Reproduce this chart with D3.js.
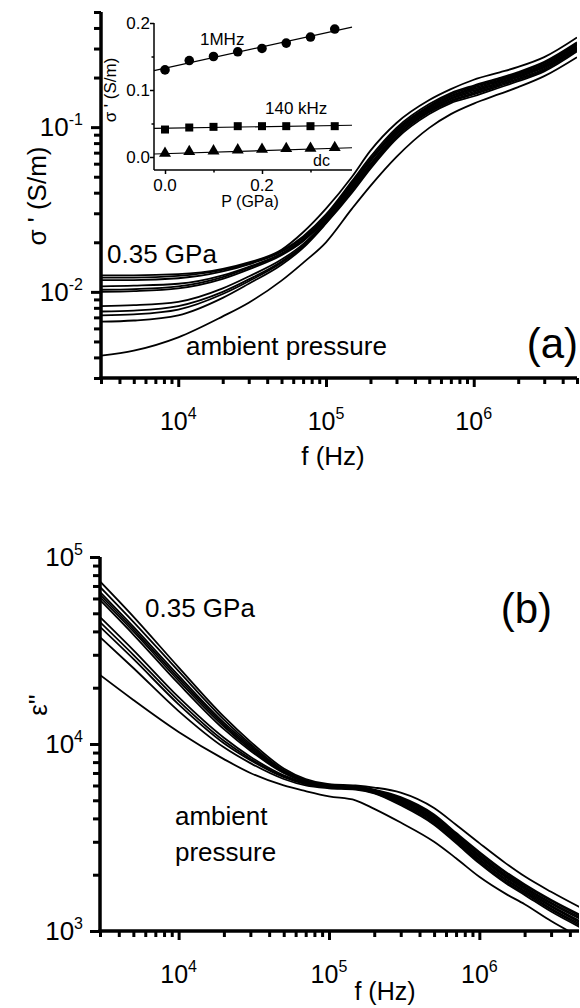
<!DOCTYPE html>
<html>
<head>
<meta charset="utf-8">
<script src="https://cdn.jsdelivr.net/npm/d3@7"></script>
<style>
  body { margin: 0; background: #fff; }
  svg text { font-family: "Liberation Sans", Arial, sans-serif; fill: #000; }
</style>
</head>
<body>
<svg id="chart"></svg>
<script>
// frequency grid (Hz) shared by both panels
const freq = [3e3, 5e3, 1e4, 2e4, 3e4, 5e4, 7e4, 1e5, 1.5e5, 2e5, 3e5, 5e5, 7e5, 1e6, 1.5e6, 2e6, 3e6, 5e6];

// panel (a): sigma' (S/m), ambient pressure first, 0.35 GPa last
const sigmaCurves = [
  [0.0041, 0.0044, 0.0053, 0.0071, 0.0086, 0.0117, 0.0150, 0.0200, 0.032, 0.044, 0.066, 0.099, 0.120, 0.139, 0.159, 0.175, 0.204, 0.266],
  [0.0066, 0.0067, 0.0072, 0.0092, 0.0112, 0.0146, 0.0185, 0.0260, 0.040, 0.056, 0.085, 0.120, 0.140, 0.154, 0.174, 0.190, 0.218, 0.288],
  [0.0072, 0.0073, 0.0078, 0.0097, 0.0116, 0.0150, 0.0188, 0.0263, 0.041, 0.057, 0.087, 0.123, 0.143, 0.158, 0.178, 0.194, 0.222, 0.293],
  [0.0076, 0.0077, 0.0082, 0.0100, 0.0119, 0.0153, 0.0191, 0.0266, 0.042, 0.058, 0.088, 0.125, 0.145, 0.161, 0.181, 0.197, 0.226, 0.298],
  [0.0082, 0.0083, 0.0087, 0.0105, 0.0124, 0.0157, 0.0195, 0.0270, 0.043, 0.059, 0.090, 0.127, 0.148, 0.164, 0.184, 0.201, 0.230, 0.303],
  [0.0100, 0.0101, 0.0105, 0.0120, 0.0137, 0.0167, 0.0203, 0.0275, 0.044, 0.060, 0.092, 0.129, 0.150, 0.167, 0.187, 0.204, 0.234, 0.308],
  [0.0103, 0.0104, 0.0108, 0.0123, 0.0140, 0.0169, 0.0206, 0.0280, 0.045, 0.062, 0.094, 0.131, 0.153, 0.170, 0.190, 0.207, 0.238, 0.313],
  [0.0108, 0.0109, 0.0112, 0.0126, 0.0142, 0.0171, 0.0208, 0.0285, 0.045, 0.063, 0.095, 0.133, 0.155, 0.173, 0.193, 0.210, 0.241, 0.318],
  [0.0118, 0.0118, 0.0121, 0.0133, 0.0147, 0.0175, 0.0213, 0.0290, 0.046, 0.064, 0.097, 0.135, 0.158, 0.176, 0.196, 0.213, 0.245, 0.322],
  [0.0122, 0.0122, 0.0125, 0.0136, 0.0149, 0.0177, 0.0217, 0.0295, 0.047, 0.066, 0.099, 0.138, 0.161, 0.179, 0.199, 0.216, 0.249, 0.327],
  [0.0126, 0.0126, 0.0128, 0.0138, 0.0151, 0.0180, 0.0230, 0.0320, 0.050, 0.072, 0.106, 0.146, 0.170, 0.194, 0.215, 0.232, 0.266, 0.350]
];

// panel (b): epsilon''
const epsCurves = [
  [23400, 17200, 11600, 8300, 7000, 6000, 5600, 5250, 5000, 4500, 3800, 3000, 2450, 1950, 1580, 1390, 1130, 900],
  [37300, 25500, 15000, 9600, 7900, 6500, 6000, 5800, 5700, 5450, 4700, 3700, 2950, 2300, 1800, 1560, 1270, 1020],
  [42300, 28500, 16300, 10100, 8200, 6650, 6100, 5850, 5750, 5480, 4760, 3760, 3000, 2340, 1830, 1590, 1300, 1040],
  [44900, 30000, 17000, 10400, 8350, 6700, 6150, 5880, 5780, 5510, 4820, 3830, 3050, 2390, 1870, 1620, 1320, 1060],
  [47800, 31800, 17800, 10800, 8550, 6800, 6200, 5900, 5800, 5540, 4890, 3890, 3100, 2430, 1900, 1640, 1350, 1080],
  [58900, 38500, 21000, 12000, 9200, 7000, 6250, 5950, 5850, 5580, 4950, 3950, 3150, 2480, 1940, 1670, 1370, 1100],
  [61100, 40000, 21800, 12400, 9400, 7050, 6300, 5980, 5880, 5610, 5010, 4010, 3200, 2520, 1970, 1700, 1400, 1130],
  [63000, 41200, 22500, 12700, 9600, 7100, 6330, 6000, 5900, 5640, 5070, 4080, 3250, 2560, 2000, 1720, 1420, 1150],
  [65000, 42400, 23200, 13000, 9800, 7150, 6360, 6030, 5920, 5670, 5140, 4140, 3300, 2610, 2040, 1750, 1450, 1170],
  [69200, 45000, 24500, 13500, 10000, 7250, 6420, 6060, 5950, 5700, 5200, 4200, 3350, 2650, 2070, 1780, 1470, 1190],
  [74000, 48000, 25700, 14000, 10300, 7400, 6500, 6100, 6000, 5850, 5500, 4550, 3700, 2950, 2300, 1960, 1620, 1300]
];

// inset: sigma' vs pressure
const pressure = [0, 0.05, 0.10, 0.15, 0.20, 0.25, 0.30, 0.35];
const sig1MHz = [0.130, 0.144, 0.150, 0.157, 0.162, 0.170, 0.179, 0.191];
const sig140k = [0.041, 0.044, 0.045, 0.046, 0.046, 0.046, 0.046, 0.046];
const sigDc = [0.004, 0.0065, 0.0075, 0.009, 0.010, 0.011, 0.0115, 0.0125];

const xMajor = [1e4, 1e5, 1e6];
const xMajorExp = ["4", "5", "6"];
const aMajor = [0.1, 0.01];
const aMajorExp = ["-1", "-2"];
const bMajor = [1e5, 1e4, 1e3];
const bMajorExp = ["5", "4", "3"];
const insetYTicks = [0, 0.1, 0.2];
const insetXTicks = [0, 0.2];

const W = 580, H = 1008;
const svg = d3.select('#chart').attr('width', W).attr('height', H);

// minor ticks of a log domain (2..9 x decade)
function logMinor(domain) {
  const out = [];
  for (let e = -4; e <= 7; e++) {
    for (let m = 2; m <= 9; m++) {
      const v = m * Math.pow(10, e);
      if (v >= domain[0] * 0.999 && v <= domain[1] * 1.001) out.push(v);
    }
  }
  return out;
}

function powLabel(g, x, y, exp, anchor, size) {
  const t = g.append('text')
      .attr('x', x).attr('y', y)
      .attr('text-anchor', anchor)
      .style('font-size', size + 'px');
  t.append('tspan').text('10');
  t.append('tspan').attr('dy', -11).style('font-size', Math.round(size * 0.62) + 'px').text(exp);
}

function logPanel(cfg) {
  const g = svg.append('g');
  const x = d3.scaleLog().domain(cfg.xDomain).range(cfg.xRange);
  const y = d3.scaleLog().domain(cfg.yDomain).range(cfg.yRange);
  const x0 = cfg.xRange[0], yb = cfg.yRange[0];

  const clipId = 'clip' + cfg.id;
  svg.append('clipPath').attr('id', clipId)
    .append('rect')
      .attr('x', x0).attr('y', cfg.yRange[1])
      .attr('width', cfg.xRange[1] - x0).attr('height', yb - cfg.yRange[1]);

  const line = d3.line()
      .x(d => x(d[0]))
      .y(d => y(d[1]))
      .curve(d3.curveMonotoneX);

  g.append('g').attr('clip-path', `url(#${clipId})`)
    .selectAll('path')
    .data(cfg.curves)
    .join('path')
      .attr('d', c => line(c.map((v, i) => [freq[i], v])))
      .attr('fill', 'none')
      .attr('stroke', '#000')
      .attr('stroke-width', 1.8);

  // x axis
  const xa = g.append('g').attr('transform', `translate(0,${yb})`);
  xa.call(d3.axisBottom(x).tickValues(logMinor(cfg.xDomain)).tickSize(6).tickSizeOuter(0).tickFormat(''));
  xa.append('g').call(d3.axisBottom(x).tickValues(xMajor).tickSize(9).tickSizeOuter(0).tickFormat(''));
  xa.selectAll('.domain').remove();
  xa.selectAll('line').attr('stroke-width', 3);

  // y axis
  const ya = g.append('g').attr('transform', `translate(${x0},0)`);
  ya.call(d3.axisLeft(y).tickValues(logMinor(cfg.yDomain)).tickSize(7).tickSizeOuter(0).tickFormat(''));
  ya.append('g').call(d3.axisLeft(y).tickValues(cfg.yMajor).tickSize(10).tickSizeOuter(0).tickFormat(''));
  ya.selectAll('.domain').remove();
  ya.selectAll('line').attr('stroke-width', 3);

  g.append('line').attr('x1', x0 - 1.5).attr('x2', cfg.xRange[1]).attr('y1', yb).attr('y2', yb)
      .attr('stroke', '#000').attr('stroke-width', 3.5);
  g.append('line').attr('x1', x0).attr('x2', x0).attr('y1', yb).attr('y2', cfg.yRange[1])
      .attr('stroke', '#000').attr('stroke-width', 3.5);

  xMajor.forEach((v, i) => powLabel(g, x(v), yb + 52, xMajorExp[i], 'middle', 25));
  cfg.yMajor.forEach((v, i) => powLabel(g, 83, y(v) + 9, cfg.yMajorExp[i], 'end', 26));

  return { g, x, y };
}

// ---------- panel (a) ----------
const pa = logPanel({
  id: 'a',
  xDomain: [3000, 5e6], xRange: [101, 577],
  yDomain: [0.003, 0.5], yRange: [378, 12],
  yMajor: aMajor, yMajorExp: aMajorExp,
  curves: sigmaCurves
});

pa.g.append('text').attr('x', 333).attr('y', 465).attr('text-anchor', 'middle')
    .style('font-size', '26px').text('f (Hz)');
pa.g.append('text').attr('transform', 'translate(46,196) rotate(-90)').attr('text-anchor', 'middle')
    .style('font-size', '26px').text('σ \' (S/m)');
pa.g.append('text').attr('x', 107).attr('y', 263).style('font-size', '26px').text('0.35 GPa');
pa.g.append('text').attr('x', 186).attr('y', 355).style('font-size', '26px').text('ambient pressure');
pa.g.append('text').attr('x', 578).attr('y', 358).attr('text-anchor', 'end')
    .style('font-size', '42px').text('(a)');

// ---------- inset ----------
const ig = svg.append('g');
const ix = d3.scaleLinear().domain([-0.0227, 0.3856]).range([154, 352]);
const iy = d3.scaleLinear().domain([-0.0194, 0.2]).range([170, 23]);

const ixa = ig.append('g').attr('transform', 'translate(0,170)');
ixa.call(d3.axisBottom(ix).tickValues([0.1, 0.3]).tickSize(2.5).tickSizeOuter(0).tickFormat(''));
ixa.append('g').call(d3.axisBottom(ix).tickValues(insetXTicks).tickSize(4).tickSizeOuter(0).tickFormat(''));
ixa.selectAll('.domain').remove();
ixa.selectAll('line').attr('stroke-width', 1.5);

const iya = ig.append('g').attr('transform', 'translate(154,0)');
iya.call(d3.axisLeft(iy).tickValues([0.05, 0.15]).tickSize(2.5).tickSizeOuter(0).tickFormat(''));
iya.append('g').call(d3.axisLeft(iy).tickValues(insetYTicks).tickSize(4).tickSizeOuter(0).tickFormat(''));
iya.selectAll('.domain').remove();
iya.selectAll('line').attr('stroke-width', 1.5);

ig.append('line').attr('x1', 154).attr('x2', 352).attr('y1', 170).attr('y2', 170)
    .attr('stroke', '#000').attr('stroke-width', 1.5);
ig.append('line').attr('x1', 154).attr('x2', 154).attr('y1', 170).attr('y2', 23)
    .attr('stroke', '#000').attr('stroke-width', 1.5);

ig.selectAll('.ytl').data(insetYTicks).join('text')
    .attr('x', 150).attr('y', d => iy(d) + 6).attr('text-anchor', 'end')
    .style('font-size', '17px').text(d => d.toFixed(1));
ig.selectAll('.xtl').data(insetXTicks).join('text')
    .attr('x', d => ix(d)).attr('y', 191).attr('text-anchor', 'middle')
    .style('font-size', '17px').text(d => d.toFixed(1));
ig.append('text').attr('x', 250).attr('y', 207).attr('text-anchor', 'middle')
    .style('font-size', '16px').text('P (GPa)');
ig.append('text').attr('transform', 'translate(116,90) rotate(-90)').attr('text-anchor', 'middle')
    .style('font-size', '17px').text('σ \' (S/m)');

function fit(xs, ys) {
  const mx = d3.mean(xs), my = d3.mean(ys);
  const b = d3.sum(xs, (v, i) => (v - mx) * (ys[i] - my)) / d3.sum(xs, v => (v - mx) * (v - mx));
  return [b, my - b * mx];
}
[sig1MHz, sig140k, sigDc].forEach(s => {
  const [b, a] = fit(pressure, s);
  const ends = ix.domain();
  ig.append('line')
      .attr('x1', ix(ends[0])).attr('y1', iy(a + b * ends[0]))
      .attr('x2', ix(ends[1])).attr('y2', iy(a + b * ends[1]))
      .attr('stroke', '#000').attr('stroke-width', 1.2);
});

ig.selectAll('.c1').data(pressure).join('circle')
    .attr('cx', d => ix(d)).attr('cy', (d, i) => iy(sig1MHz[i])).attr('r', 4.8);
ig.selectAll('.sq').data(pressure).join('rect')
    .attr('x', d => ix(d) - 4).attr('y', (d, i) => iy(sig140k[i]) - 4)
    .attr('width', 8).attr('height', 8);
ig.selectAll('.tri').data(pressure).join('path')
    .attr('d', d3.symbol(d3.symbolTriangle).size(62))
    .attr('transform', (d, i) => `translate(${ix(d)},${iy(sigDc[i]) - 1})`);

ig.append('text').attr('x', 200).attr('y', 45).style('font-size', '17px').text('1MHz');
ig.append('text').attr('x', 265).attr('y', 114).style('font-size', '17px').text('140 kHz');
ig.append('text').attr('x', 313).attr('y', 166).style('font-size', '16px').text('dc');

// ---------- panel (b) ----------
const pb = logPanel({
  id: 'b',
  xDomain: [3000, 4.6e6], xRange: [100, 579],
  yDomain: [1000, 1e5], yRange: [931, 557],
  yMajor: bMajor, yMajorExp: bMajorExp,
  curves: epsCurves
});

pb.g.append('text').attr('x', 385).attr('y', 1000).attr('text-anchor', 'middle')
    .style('font-size', '25px').text('f (Hz)');
pb.g.append('text').attr('transform', 'translate(47,705) rotate(-90)').attr('text-anchor', 'middle')
    .style('font-size', '26px').text('ε\'\'');
pb.g.append('text').attr('x', 145).attr('y', 617).style('font-size', '26px').text('0.35 GPa');
pb.g.append('text').attr('x', 175).attr('y', 825).style('font-size', '26px').text('ambient');
pb.g.append('text').attr('x', 175).attr('y', 861).style('font-size', '26px').text('pressure');
pb.g.append('text').attr('x', 552).attr('y', 623).attr('text-anchor', 'end')
    .style('font-size', '42px').text('(b)');
</script>
</body>
</html>
